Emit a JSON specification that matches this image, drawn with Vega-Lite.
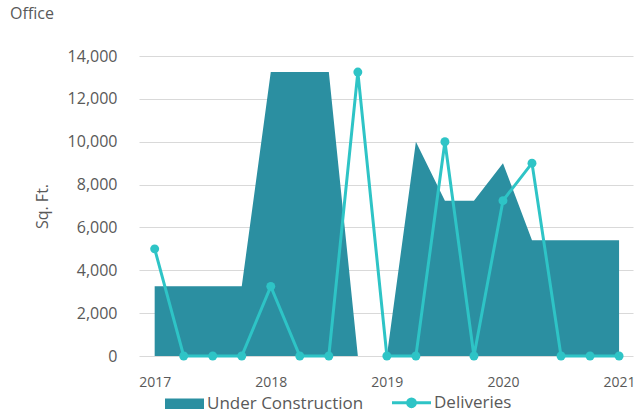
{
  "$schema": "https://vega.github.io/schema/vega-lite/v6.json",
  "width": 494,
  "height": 300,
  "autosize": {"type": "none"},
  "padding": {"left": 139, "top": 56, "right": 1, "bottom": 55},
  "background": "white",
  "title": {"text": "Office", "anchor": "start", "frame": "group", "dx": -129, "dy": -14, "fontSize": 16, "font": "Open Sans", "fontWeight": "normal", "color": "#595959", "baseline": "middle"},
  "config": {
    "view": {"stroke": null},
    "font": "Open Sans"
  },
  "data": {"values": [
    {"q": 2017, "uc": 3250, "del": 5000},
    {"q": 2017.25, "uc": 3250, "del": 0},
    {"q": 2017.5, "uc": 3250, "del": 0},
    {"q": 2017.75, "uc": 3250, "del": 0},
    {"q": 2018, "uc": 13250, "del": 3250},
    {"q": 2018.25, "uc": 13250, "del": 0},
    {"q": 2018.5, "uc": 13250, "del": 0},
    {"q": 2018.75, "uc": 0, "del": 13250},
    {"q": 2019, "uc": 0, "del": 0},
    {"q": 2019.25, "uc": 10000, "del": 0},
    {"q": 2019.5, "uc": 7250, "del": 10000},
    {"q": 2019.75, "uc": 7250, "del": 0},
    {"q": 2020, "uc": 9000, "del": 7250},
    {"q": 2020.25, "uc": 5400, "del": 9000},
    {"q": 2020.5, "uc": 5400, "del": 0},
    {"q": 2020.75, "uc": 5400, "del": 0},
    {"q": 2021, "uc": 5400, "del": 0}
  ]},
  "encoding": {
    "x": {"field": "q", "type": "quantitative",
      "scale": {"domain": [2016.865, 2021.12], "nice": false, "zero": false},
      "axis": {"values": [2017, 2018, 2019, 2020, 2021], "format": "d", "title": null, "grid": false, "domain": false, "ticks": false, "labelFontSize": 14, "labelColor": "#595959", "labelPadding": 19, "labelFont": "Open Sans"}
    }
  },
  "layer": [
    {
      "mark": {"type": "area", "opacity": 1},
      "encoding": {
        "y": {"field": "uc", "type": "quantitative",
          "scale": {"domain": [0, 14000], "nice": false},
          "axis": {"values": [0, 2000, 4000, 6000, 8000, 10000, 12000, 14000], "format": ",d", "title": "Sq. Ft.", "titleFontSize": 16, "titleFontWeight": "normal", "titleColor": "#595959", "titleFont": "Open Sans", "titleX": -97, "titleBaseline": "middle", "domain": false, "ticks": false, "labelPadding": 22, "labelFontSize": 16, "labelColor": "#595959", "labelFont": "Open Sans", "gridColor": "#d9d9d9", "gridWidth": 1}
        },
        "color": {"datum": "Under Construction", "type": "nominal",
          "scale": {"domain": ["Under Construction", "Deliveries"], "range": ["#2B8FA1", "#2EC4C6"]},
          "legend": {
            "title": null, "orient": "none", "direction": "horizontal", "legendX": 37, "legendY": 338,
            "symbolSize": 1521, "labelFontSize": 17, "labelLimit": 300, "labelColor": "#595959", "labelFont": "Open Sans", "labelOffset": 14, "columnPadding": 22,
            "symbolOpacity": 1,
            "encode": {"symbols": {"update": {
              "shape": {"signal": "datum.value === 'Deliveries' ? 'M-1,0H1M-0.2,0A0.2,0.2 0 1,0 0.2,0A0.2,0.2 0 1,0 -0.2,0Z' : 'M-1,-0.27H1V0.27H-1Z'"},
              "fill": {"signal": "datum.value === 'Deliveries' ? '#2EC4C6' : '#2B8FA1'"},
              "stroke": {"signal": "datum.value === 'Deliveries' ? '#2EC4C6' : '#2B8FA1'"},
              "strokeWidth": {"signal": "datum.value === 'Deliveries' ? 3 : 0"},
              "fillOpacity": {"value": 1},
              "opacity": {"value": 1}
            }}}
          }
        }
      }
    },
    {
      "mark": {"type": "line", "strokeWidth": 3, "point": {"size": 80, "filled": true, "opacity": 1}},
      "encoding": {
        "y": {"field": "del", "type": "quantitative"},
        "color": {"datum": "Deliveries", "type": "nominal"}
      }
    }
  ]
}
